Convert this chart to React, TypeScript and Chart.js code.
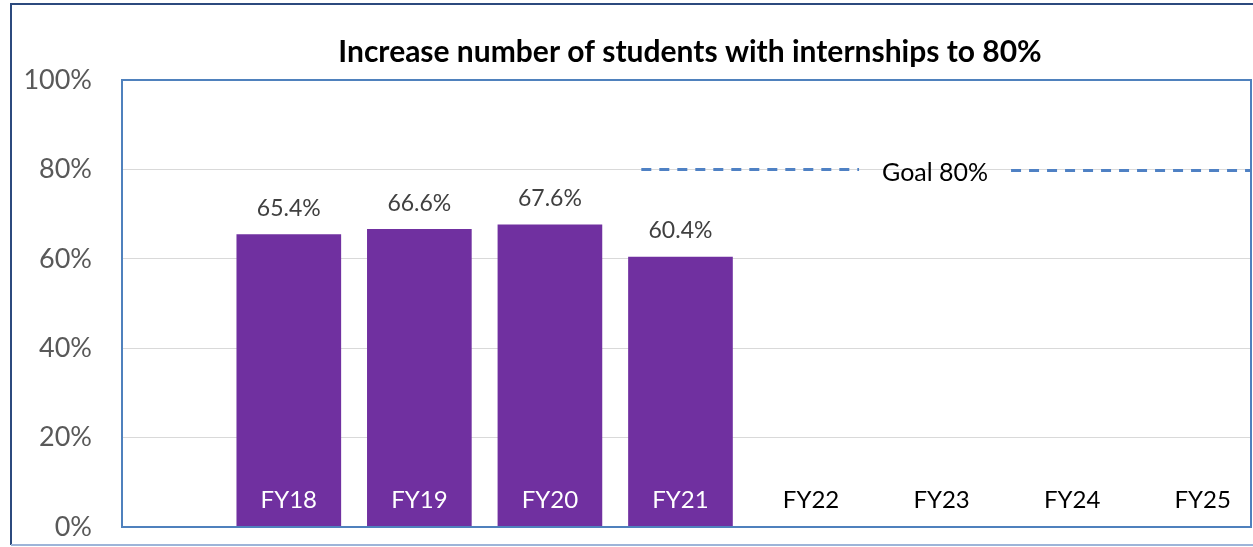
import React, { useEffect, useRef } from "react";
import { Chart, registerables } from "chart.js";

Chart.register(...registerables);

const chartTitle = "Increase number of students with internships to 80%";
const categories = ["FY18", "FY19", "FY20", "FY21", "FY22", "FY23", "FY24", "FY25"];
const rates = [65.4, 66.6, 67.6, 60.4];
const yTickValues = [0, 20, 40, 60, 80, 100];
const goalValue = 80;
const goalLabel = "Goal 80%";
const goalFrom = 2.7;
const goalLabelAt = 4.95;

const FONT = "Lato, 'Open Sans', sans-serif";

const decorPlugin = {
  id: "decor",
  beforeDraw(chart: any) {
    const { ctx, width, height } = chart;
    ctx.save();
    ctx.fillStyle = "#ffffff";
    ctx.fillRect(0, 0, width, height);
    // outer frame
    ctx.lineWidth = 2;
    ctx.strokeStyle = "#2c4a7e";
    ctx.beginPath();
    ctx.moveTo(11, height - 2);
    ctx.lineTo(11, 4);
    ctx.lineTo(width, 4);
    ctx.stroke();
    ctx.strokeStyle = "#9db4d8";
    ctx.beginPath();
    ctx.moveTo(11, height - 2);
    ctx.lineTo(width, height - 2);
    ctx.stroke();
    ctx.restore();
  },
  afterDatasetsDraw(chart: any) {
    const { ctx, chartArea } = chart;
    const xs = chart.scales.x;
    const ys = chart.scales.y;
    ctx.save();
    // goal line
    const gy = ys.getPixelForValue(goalValue);
    const lx = xs.getPixelForValue(goalLabelAt);
    const gap = 76;
    ctx.strokeStyle = "#4f81c4";
    ctx.lineWidth = 3;
    ctx.setLineDash([10, 8]);
    ctx.beginPath();
    ctx.moveTo(xs.getPixelForValue(goalFrom), gy);
    ctx.lineTo(lx - gap, gy);
    ctx.moveTo(lx + gap, gy + 1);
    ctx.lineTo(chartArea.right, gy + 1);
    ctx.stroke();
    ctx.setLineDash([]);
    ctx.fillStyle = "#000000";
    ctx.font = `25px ${FONT}`;
    ctx.textAlign = "center";
    ctx.textBaseline = "middle";
    ctx.fillText(goalLabel, lx, gy + 4);

    // data labels
    ctx.fillStyle = "#404040";
    ctx.font = `23px ${FONT}`;
    rates.forEach((v, i) => {
      const x = xs.getPixelForValue(i);
      const y = ys.getPixelForValue(v);
      ctx.fillText(v.toFixed(1) + "%", x, y - 26);
    });

    // category labels
    ctx.font = `24px ${FONT}`;
    categories.forEach((c, i) => {
      ctx.fillStyle = i < rates.length ? "#ffffff" : "#000000";
      ctx.fillText(c, xs.getPixelForValue(i), chartArea.bottom - 27);
    });

    // plot border
    ctx.strokeStyle = "#4f81bd";
    ctx.lineWidth = 2;
    ctx.strokeRect(chartArea.left - 1, chartArea.top, chartArea.right - chartArea.left + 1, chartArea.bottom - chartArea.top);

    // title
    ctx.fillStyle = "#000000";
    ctx.font = `bold 30px ${FONT}`;
    ctx.fillText(chartTitle, 690, 52);
    ctx.restore();
  },
};

export default function App() {
  const ref = useRef<HTMLCanvasElement>(null);
  useEffect(() => {
    document.body.style.margin = "0";
    const chart = new Chart(ref.current as HTMLCanvasElement, {
      type: "bar",
      data: {
        datasets: [
          {
            label: "Students with internships",
            data: rates.map((v, i) => ({ x: i, y: v })),
            backgroundColor: "#7030a0",
            barThickness: 104,
          },
        ],
      },
      options: {
        animation: false,
        responsive: false,
        devicePixelRatio: 1,
        layout: { padding: { top: 80, bottom: 20, right: 2, left: 0 } },
        plugins: { legend: { display: false }, tooltip: { enabled: false }, title: { display: false } },
        scales: {
          x: { type: "linear", min: -1.27, max: 7.37, display: false, offset: false, grid: { offset: false } },
          y: {
            min: 0,
            max: 100,
            afterBuildTicks: (s: any) => {
              s.ticks = yTickValues.map((v) => ({ value: v }));
            },
            afterFit: (s: any) => {
              s.width = 123;
            },
            border: { display: false },
            grid: { color: "#d9d9d9", lineWidth: 1, drawTicks: true, tickLength: 31, tickColor: "rgba(0,0,0,0)" },
            ticks: {
              padding: 0,
              color: "#595959",
              font: { family: FONT, size: 27 },
              callback: (v: any) => v + "%",
            },
          },
        },
      } as any,
      plugins: [decorPlugin],
    });
    return () => chart.destroy();
  }, []);
  return <canvas ref={ref} width={1253} height={547} style={{ display: "block" }} />;
}
